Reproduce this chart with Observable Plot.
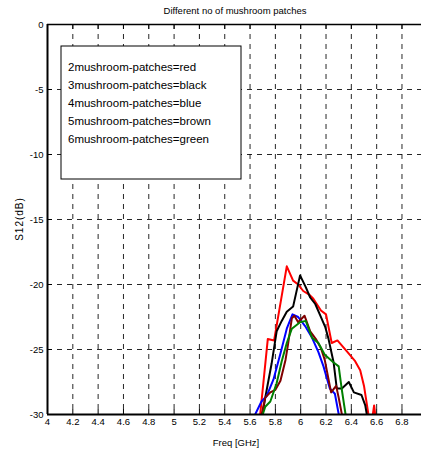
<!DOCTYPE html>
<html><head><meta charset="utf-8">
<script src="https://cdn.jsdelivr.net/npm/d3@7"></script>
<script src="https://cdn.jsdelivr.net/npm/@observablehq/plot@0.6"></script>
<style>
body{margin:0;background:#fff;}
#chart{position:relative;width:423px;height:452px;}
svg{font-family:"Liberation Sans",Arial,sans-serif;}
</style></head><body><div id="chart"></div>
<script>
const titleText = "Different no of mushroom patches";
const xLabel = "Freq [GHz]";
const yLabel = "S12(dB)";
const xTicks = [4,4.2,4.4,4.6,4.8,5,5.2,5.4,5.6,5.8,6,6.2,6.4,6.6,6.8];
const yTicks = [-30,-25,-20,-15,-10,-5,0];
const seriesNames = ["2 patches","3 patches","4 patches","5 patches","6 patches"];
const seriesColors = ["#ff0000","#000000","#0000ff","#800000","#008000"];
const legendLines = ["2mushroom-patches=red","3mushroom-patches=black","4mushroom-patches=blue","5mushroom-patches=brown","6mushroom-patches=green"];

const red = [[5.66,-31],[5.68,-30],[5.74,-24.2],[5.79,-24.3],[5.89,-18.6],[5.94,-19.7],[5.98,-20.0],[6.02,-20.5],[6.07,-20.8],[6.10,-21.1],[6.16,-22.0],[6.20,-22.3],[6.245,-24.5],[6.29,-24.3],[6.37,-25.2],[6.43,-25.9],[6.47,-26.6],[6.50,-27.8],[6.535,-30],[6.555,-31],[6.58,-29.3],[6.60,-31]];
const black = [[5.68,-31],[5.72,-28.7],[5.77,-26.1],[5.81,-23.6],[5.85,-22.8],[5.89,-22.1],[5.94,-21.7],[5.995,-19.3],[6.04,-20.2],[6.075,-21.0],[6.115,-21.5],[6.155,-22.4],[6.195,-23.3],[6.22,-24.2],[6.26,-26.0],[6.285,-28.0],[6.325,-28.0],[6.38,-27.5],[6.42,-28.3],[6.48,-28.5],[6.51,-29.3],[6.54,-31]];
const blue = [[5.62,-31],[5.64,-30],[5.69,-29.0],[5.73,-28.6],[5.785,-27.3],[5.84,-25.3],[5.89,-23.4],[5.935,-22.3],[5.98,-22.5],[6.035,-23.2],[6.09,-24.1],[6.14,-25.2],[6.18,-26.3],[6.23,-28.0],[6.27,-28.4],[6.32,-31]];
const brown = [[5.67,-31],[5.72,-28.7],[5.76,-28.3],[5.80,-28.1],[5.84,-27.4],[5.88,-25.8],[5.90,-24.6],[5.93,-22.6],[5.95,-22.4],[5.98,-22.9],[6.03,-22.4],[6.075,-23.6],[6.12,-24.2],[6.16,-24.9],[6.19,-25.8],[6.24,-28.3],[6.28,-27.8],[6.30,-28.7],[6.345,-31]];
const green = [[5.68,-31],[5.70,-30],[5.72,-29.4],[5.76,-29.0],[5.81,-27.6],[5.85,-25.9],[5.89,-24.5],[5.93,-23.4],[5.995,-22.9],[6.04,-22.8],[6.09,-24.1],[6.14,-24.5],[6.19,-25.4],[6.26,-26.0],[6.30,-26.3],[6.325,-28.1],[6.37,-31]];

const seriesData = [red, black, blue, brown, green];
const rows = seriesData.flatMap((s, i) => s.map(([x, y]) => ({series: seriesNames[i], x, y})));

const xMin = xTicks[0], yMin = yTicks[0], yMax = yTicks[yTicks.length - 1];
const W = 423, H = 452;
const mL = 47, mR = 2, mT = 24, mB = 38;
const xMax = xMin + (W - mL - mR) / 126.6;

const chart = Plot.plot({
  width: W, height: H,
  marginLeft: mL, marginRight: mR, marginTop: mT, marginBottom: mB,
  style: {fontFamily: '"Liberation Sans", Arial, sans-serif', background: "#fff", color: "#000"},
  x: {domain: [xMin, xMax], axis: null},
  y: {domain: [yMin, yMax], axis: null},
  color: {domain: seriesNames, range: seriesColors},
  marks: [
    Plot.gridX(xTicks.slice(1), {stroke: "#000", strokeOpacity: 0.85, strokeDasharray: "5,5"}),
    Plot.gridY(yTicks.slice(1, -1), {stroke: "#000", strokeOpacity: 0.85, strokeDasharray: "5,5"}),
    Plot.line(rows, {x: "x", y: "y", z: "series", stroke: "series", strokeWidth: 2, clip: true}),
    Plot.ruleX(xTicks, {y1: yMin, y2: yMin, insetTop: -5, stroke: "#000"}),
    Plot.ruleX(xTicks, {y1: yMax, y2: yMax, insetBottom: -5, stroke: "#000"}),
    Plot.ruleY(yTicks, {x1: xMin, x2: xMin, insetRight: -5, stroke: "#000"}),
    Plot.ruleY([yMin], {stroke: "#000", strokeWidth: 2}),
    Plot.ruleY([yMax], {stroke: "#000", strokeWidth: 1.5}),
    Plot.ruleX([xMin], {stroke: "#000", strokeWidth: 2}),
    Plot.axisX(xTicks, {anchor: "bottom", tickSize: 0, tickPadding: 4, fontSize: 9.5, label: null, tickFormat: d => String(d)}),
    Plot.axisY(yTicks, {anchor: "left", tickSize: 0, tickPadding: 4, fontSize: 9.5, label: null, tickFormat: d => String(d)})
  ]
});
document.getElementById("chart").appendChild(chart);

const svg = d3.select(chart);
const g = svg.append("g").attr("font-family", '"Liberation Sans", Arial, sans-serif').attr("fill", "#000");
g.append("text").attr("x", 235).attr("y", 14).attr("text-anchor", "middle").attr("font-size", 9.5).text(titleText);
g.append("text").attr("x", 236).attr("y", 446).attr("text-anchor", "middle").attr("font-size", 9.5).text(xLabel);
g.append("text").attr("transform", "translate(23,219) rotate(-90)").attr("text-anchor", "middle").attr("font-size", 10).attr("letter-spacing", 1).text(yLabel);
g.append("rect").attr("x", 61).attr("y", 46).attr("width", 180).attr("height", 133).attr("fill", "#fff").attr("stroke", "#000").attr("stroke-width", 1);
legendLines.forEach((t, i) => {
  g.append("text").attr("x", 68).attr("y", 71 + i * 18).attr("text-anchor", "start").attr("font-size", 11.5).text(t);
});
</script>
</body></html>
